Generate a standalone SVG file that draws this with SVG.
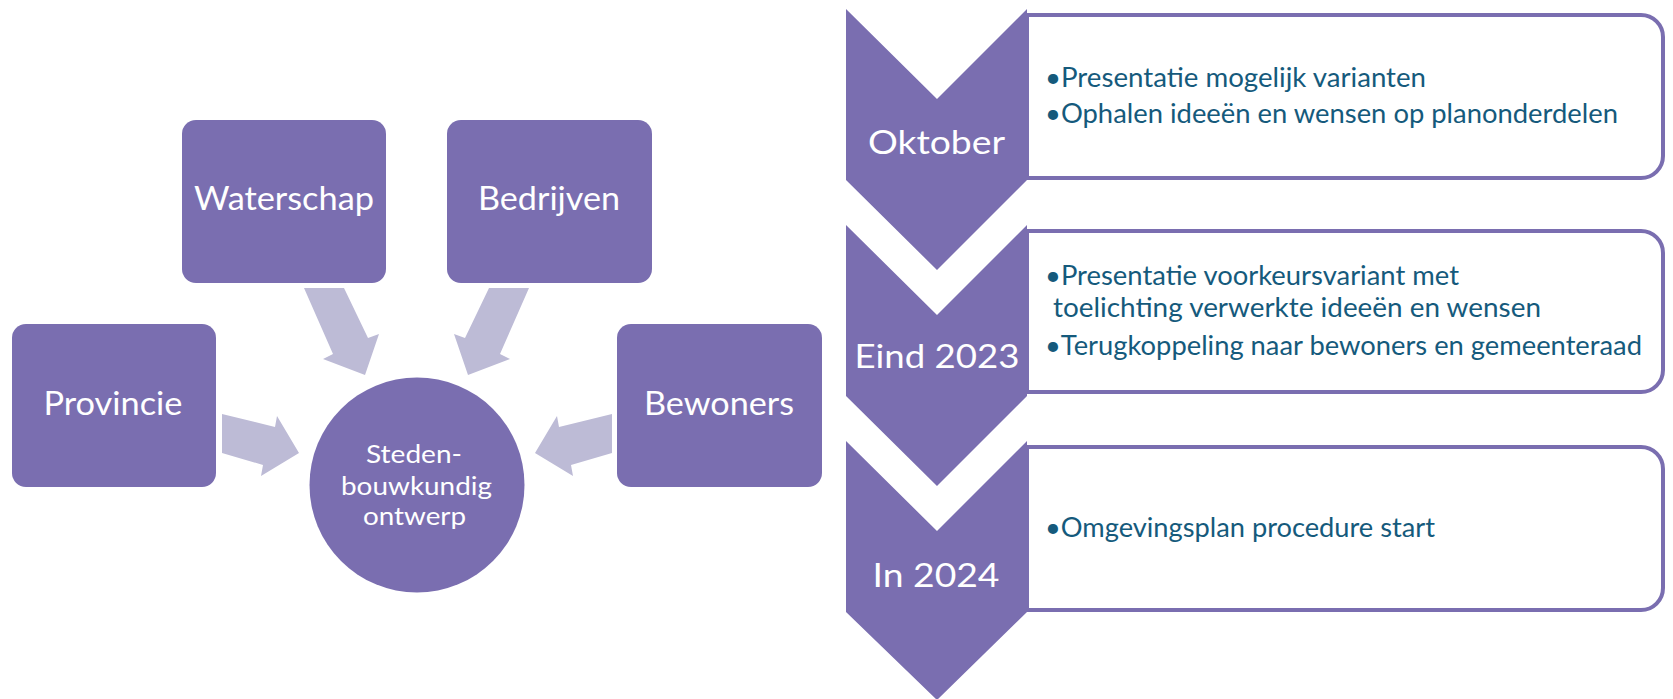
<svg xmlns="http://www.w3.org/2000/svg" width="1673" height="699" viewBox="0 0 1673 699">
<style>
.node{fill:#7A6EB0}
.arrow{fill:#BDBBD6}
.lbl{font-family:Lato,"Liberation Sans",sans-serif;fill:#FFFFFF;text-anchor:middle}
.big{font-size:33px}
.mid{font-size:25px}
.box{fill:#FFFFFF;stroke:#7A6EB0;stroke-width:4}
.item{font-family:Lato,"Liberation Sans",sans-serif;font-size:26px;fill:#155A7C}
</style>
<rect width="1673" height="699" fill="#FFFFFF"/>
<g id="connectors">
<polygon class="arrow" points="304,288 344,288 368,338 379,334 365,375 323,359 333,354"/>
<polygon class="arrow" points="529,288 489,288 465,338 454,334 468,375 510,359 500,354"/>
<polygon class="arrow" points="222,414 275,427 277,416 299,453 261,476 263,465 222,453"/>
<polygon class="arrow" points="612,414 559,427 557,416 535,453 573,476 571,465 612,453"/>
</g>
<g id="waterschap">
<rect class="node" x="182" y="120" width="204" height="163" rx="14"/>
<text class="lbl big" x="284" y="210" textLength="180" lengthAdjust="spacingAndGlyphs">Waterschap</text>
</g>
<g id="bedrijven">
<rect class="node" x="447" y="120" width="205" height="163" rx="14"/>
<text class="lbl big" x="549" y="210" textLength="142" lengthAdjust="spacingAndGlyphs">Bedrijven</text>
</g>
<g id="provincie">
<rect class="node" x="12" y="324" width="204" height="163" rx="14"/>
<text class="lbl big" x="113" y="415" textLength="139" lengthAdjust="spacingAndGlyphs">Provincie</text>
</g>
<g id="bewoners">
<rect class="node" x="617" y="324" width="205" height="163" rx="14"/>
<text class="lbl big" x="719" y="415" textLength="150" lengthAdjust="spacingAndGlyphs">Bewoners</text>
</g>
<g id="stedenbouwkundig-ontwerp">
<circle class="node" cx="417" cy="485" r="107.5"/>
<text class="lbl mid" x="414" y="463" textLength="96" lengthAdjust="spacingAndGlyphs">Steden-</text>
<text class="lbl mid" x="416.5" y="495" textLength="151" lengthAdjust="spacingAndGlyphs">bouwkundig</text>
<text class="lbl mid" x="414.5" y="525" textLength="103" lengthAdjust="spacingAndGlyphs">ontwerp</text>
</g>
<g id="oktober">
<path class="box" d="M1027,15 H1641 A22,22 0 0 1 1663,37 V156 A22,22 0 0 1 1641,178 H1027 Z"/>
<polygon class="node" points="846,9 937,99 1027,9 1027,180 937,270 846,180"/>
<text class="lbl big" x="936.5" y="154" textLength="137" lengthAdjust="spacingAndGlyphs">Oktober</text>
<text class="item" x="1045" y="87" textLength="381" lengthAdjust="spacingAndGlyphs">•Presentatie mogelijk varianten</text>
<text class="item" x="1045" y="123" textLength="573" lengthAdjust="spacingAndGlyphs">•Ophalen ideeën en wensen op planonderdelen</text>
</g>
<g id="eind-2023">
<path class="box" d="M1027,231 H1641 A22,22 0 0 1 1663,253 V370 A22,22 0 0 1 1641,392 H1027 Z"/>
<polygon class="node" points="846,225 937,315 1027,225 1027,396 937,486 846,396"/>
<text class="lbl big" x="937" y="368" textLength="165" lengthAdjust="spacingAndGlyphs">Eind 2023</text>
<text class="item" x="1045" y="285" textLength="414" lengthAdjust="spacingAndGlyphs">•Presentatie voorkeursvariant met</text>
<text class="item" x="1053" y="317" textLength="488" lengthAdjust="spacingAndGlyphs">toelichting verwerkte ideeën en wensen</text>
<text class="item" x="1045" y="355" textLength="597" lengthAdjust="spacingAndGlyphs">•Terugkoppeling naar bewoners en gemeenteraad</text>
</g>
<g id="in-2024">
<path class="box" d="M1027,447 H1641 A22,22 0 0 1 1663,469 V588 A22,22 0 0 1 1641,610 H1027 Z"/>
<polygon class="node" points="846,441 937,531 1027,441 1027,612 937,700 846,612"/>
<text class="lbl big" x="936" y="587" textLength="127" lengthAdjust="spacingAndGlyphs">In 2024</text>
<text class="item" x="1045" y="537" textLength="390" lengthAdjust="spacingAndGlyphs">•Omgevingsplan procedure start</text>
</g>
</svg>
